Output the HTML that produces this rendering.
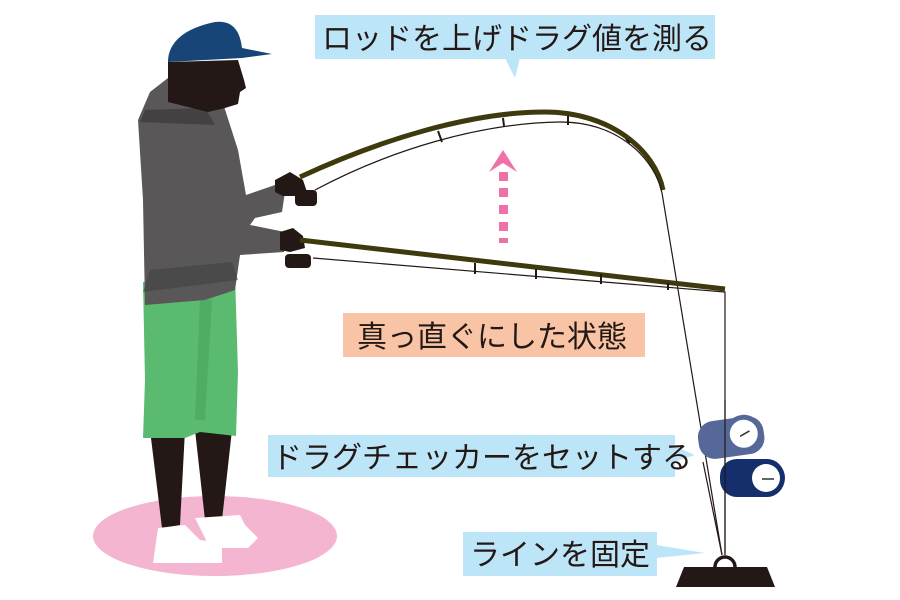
<!DOCTYPE html>
<html><head><meta charset="utf-8"><style>
body{margin:0;background:#fff;}
svg{display:block}
text{font-family:"Liberation Sans","Noto Sans CJK JP",sans-serif;font-size:30px;fill:#231815}
</style></head><body>
<svg width="900" height="600" viewBox="0 0 900 600" xmlns="http://www.w3.org/2000/svg">
<ellipse cx="215" cy="536" rx="122" ry="40" fill="#f3b5cf"/>
<!-- legs -->
<path d="M150 430 L185 430 L180 525 L162 528 Z" fill="#231815"/>
<path d="M195 430 L232 430 L222 520 L205 520 Z" fill="#231815"/>
<!-- shoes -->
<path d="M158 528 L185 525 L200 540 L222 543 L222 563 L153 563 Z" fill="#fff"/>
<path d="M195 518 L240 515 L245 525 L258 538 L248 548 L210 548 Z" fill="#fff"/>
<!-- shorts -->
<path d="M143 282 L235 275 L238 372 L236 436 L200 432 L185 438 L143 438 L145 380 Z" fill="#5aba70"/>
<path d="M200 300 L212 300 L205 420 L195 420 Z" fill="#47a35c" opacity=".6"/>
<!-- hoodie -->
<path d="M150 92 L168 78 L205 82 L222 100 L238 150 L246 195 L275 185 L285 192 L282 212 L255 218 L250 225 L285 232 L284 252 L240 255 L235 290 L205 300 L145 305 L143 200 L138 120 Z" fill="#595757"/>
<path d="M145 110 L205 108 L215 125 L140 122 Z" fill="#434141"/>
<path d="M150 270 L232 262 L238 280 L143 292 Z" fill="#434141" opacity=".6"/>
<!-- head -->
<path d="M168 62 L238 60 L244 80 L246 88 L240 92 L238 104 L225 108 L208 112 L168 102 Z" fill="#231815"/>
<!-- cap -->
<path d="M168 62 C168 42 185 28 215 22 C232 20 240 30 242 48 L272 54 L242 58 L168 62 Z" fill="#184577"/>
<!-- hands -->
<path d="M275 180 L290 172 L303 180 L307 192 L296 196 L283 196 L275 192 Z" fill="#231815"/>
<path d="M280 232 L293 228 L303 236 L305 248 L290 252 L280 250 Z" fill="#231815"/>
<rect x="295" y="190" width="22" height="16" rx="4" fill="#231815"/>
<rect x="285" y="254" width="26" height="14" rx="4" fill="#231815"/>
<!-- upper rod -->
<path d="M300 177 C380 140 470 112 545 112 C610 112 655 150 663 190" fill="none" stroke="#3f3a0d" stroke-width="5"/>
<path d="M315 190 C390 150 480 123 560 122 C620 122 655 160 662 193 L722 555" fill="none" stroke="#231815" stroke-width="1.2"/>
<g stroke="#231815" stroke-width="2">
<line x1="438" y1="131" x2="442" y2="142"/><line x1="503" y1="118" x2="504" y2="126"/>
<line x1="568" y1="116" x2="568" y2="125"/><line x1="626" y1="139" x2="630" y2="143"/>
</g>
<!-- lower rod -->
<path d="M300 240 L725 289" fill="none" stroke="#3f3a0d" stroke-width="5"/>
<path d="M313 258 L725 292 L725 555" fill="none" stroke="#231815" stroke-width="1.2"/>
<g stroke="#231815" stroke-width="2">
<line x1="475" y1="263" x2="475" y2="274"/><line x1="536" y1="269" x2="536" y2="279"/>
<line x1="601" y1="274" x2="601" y2="284"/><line x1="668" y1="283" x2="668" y2="290"/>
</g>
<!-- arrow -->
<path d="M489 172 L503 150 L517 172 L503 163 Z" fill="#ee72a7"/>
<g fill="#ee72a7"><rect x="499" y="172" width="9" height="9"/><rect x="499" y="188" width="9" height="9"/><rect x="499" y="205" width="9" height="9"/><rect x="499" y="222" width="9" height="9"/><rect x="499" y="238" width="9" height="5"/></g>
<!-- labels -->
<rect x="315" y="15" width="400" height="44" fill="#bde5f8"/>
<path d="M505 58 L520 58 L515 78 Z" fill="#bde5f8"/>
<text x="322" y="49">ロッドを上げドラグ値を測る</text>
<rect x="343" y="313" width="302" height="44" fill="#f8c4a5"/>
<text x="357" y="347">真っ直ぐにした状態</text>
<rect x="268" y="435" width="407" height="42" fill="#bde5f8"/>
<path d="M674 446 L695 455 L674 462 Z" fill="#bde5f8"/>
<text x="272" y="468">ドラグチェッカーをセットする</text>
<rect x="463" y="532" width="194" height="44" fill="#bde5f8"/>
<path d="M656 545 L705 553 L656 558 Z" fill="#bde5f8"/>
<text x="470" y="565">ラインを固定</text>
<!-- drag checkers -->
<g transform="rotate(-8 735 436)"><rect x="698" y="418" width="66" height="38" rx="16" fill="#56689a"/><circle cx="744" cy="435" r="19" fill="#56689a"/><circle cx="744" cy="435" r="14" fill="#fff"/><line x1="740" y1="437" x2="750" y2="433" stroke="#333" stroke-width="1.5"/></g>
<rect x="720" y="459" width="64" height="38" rx="17" fill="#152f6c"/><circle cx="766" cy="478" r="19" fill="#152f6c"/><circle cx="766" cy="478" r="14" fill="#fff"/><line x1="762" y1="479" x2="774" y2="479" stroke="#333" stroke-width="1.5"/>
<!-- re-draw lines over checkers -->
<path d="M703 462 L722 555 M725 400 L725 555" stroke="#231815" stroke-width="1.2"/>
<!-- weight -->
<path d="M715 567 A10 10 0 0 1 735 567" fill="none" stroke="#231815" stroke-width="3.5"/>
<path d="M684 567 L767 567 L775 587 L676 587 Z" fill="#231815"/>
</svg>
</body></html>
